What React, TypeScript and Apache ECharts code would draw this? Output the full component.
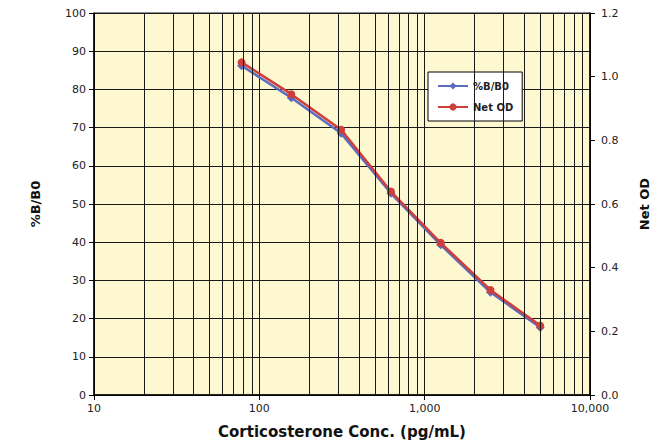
import React, { useEffect, useRef } from "react";
import * as echarts from "echarts";

const concentrations = [78.1, 156, 312.5, 625, 1250, 2500, 5000];
const pctBB0 = [86.2, 77.8, 68.5, 52.8, 39.3, 26.9, 17.7];
const netOD = [1.045, 0.945, 0.833, 0.639, 0.478, 0.33, 0.218];
const minorGridX = [
  20, 30, 40, 50, 60, 70, 80, 90,
  200, 300, 400, 500, 600, 700, 800, 900,
  2000, 3000, 4000, 5000, 6000, 7000, 8000, 9000,
];
const seriesNames = ["%B/B0", "Net OD"];
const axisTitles = { x: "Corticosterone Conc. (pg/mL)", left: "%B/B0", right: "Net OD" };

const FONT = "DejaVu Sans";

export default function App() {
  const ref = useRef<HTMLDivElement>(null);
  useEffect(() => {
    if (!ref.current) return;
    const chart = echarts.init(ref.current, undefined, { renderer: "svg" });
    const gridColor = "#1a1a1a";
    chart.setOption({
      animation: false,
      textStyle: { fontFamily: FONT },
      grid: {
        left: 94,
        right: 77,
        top: 13,
        bottom: 48,
        show: true,
        backgroundColor: "#FDF8CF",
        borderColor: gridColor,
        borderWidth: 1,
      },
      legend: {
        orient: "vertical",
        left: 428,
        top: 72,
        backgroundColor: "#ffffff",
        borderColor: "#000",
        borderWidth: 1,
        borderRadius: 0,
        padding: [9, 9, 9, 9],
        itemGap: 11,
        itemWidth: 30,
        itemHeight: 9,
        textStyle: { fontFamily: FONT, fontSize: 10, fontWeight: "bold", color: "#222" },
        data: [seriesNames[0], seriesNames[1]],
      },
      xAxis: {
        type: "log",
        logBase: 10,
        min: 10,
        max: 10000,
        name: axisTitles.x,
        nameLocation: "middle",
        nameGap: 29,
        nameTextStyle: { fontFamily: FONT, fontSize: 15, fontWeight: "bold", color: "#111" },
        axisLine: { lineStyle: { color: "#000", width: 1.5 } },
        axisTick: { show: true, length: 5, lineStyle: { color: "#000" } },
        axisLabel: {
          fontFamily: FONT,
          fontSize: 11,
          color: "#222",
          margin: 8,
          formatter: (v: number) => Math.round(v).toLocaleString("en-US"),
        },
        splitLine: { show: true, lineStyle: { color: gridColor, width: 1 } },
      },
      yAxis: [
        {
          type: "value",
          min: 0,
          max: 100,
          interval: 10,
          name: axisTitles.left,
          nameLocation: "middle",
          nameGap: 52,
          nameRotate: 90,
          nameTextStyle: { fontFamily: FONT, fontSize: 13, fontWeight: "bold", color: "#111" },
          axisLine: { show: true, lineStyle: { color: "#000", width: 1.5 } },
          axisTick: { show: true, length: 5, lineStyle: { color: "#000" } },
          axisLabel: { fontFamily: FONT, fontSize: 11, color: "#222", margin: 8 },
          splitLine: { show: true, lineStyle: { color: gridColor, width: 1 } },
        },
        {
          type: "value",
          min: 0,
          max: 1.2,
          interval: 0.2,
          position: "right",
          name: axisTitles.right,
          nameLocation: "middle",
          nameGap: 48,
          nameRotate: 90,
          nameTextStyle: { fontFamily: FONT, fontSize: 13, fontWeight: "bold", color: "#111" },
          axisLine: { show: true, lineStyle: { color: "#000", width: 1.5 } },
          axisTick: { show: true, length: 5, lineStyle: { color: "#000" } },
          axisLabel: {
            fontFamily: FONT,
            fontSize: 11,
            color: "#222",
            margin: 11,
            formatter: (v: number) => v.toFixed(1),
          },
          splitLine: { show: false },
        },
      ],
      series: [
        {
          name: "minor-grid",
          type: "line",
          data: [],
          silent: true,
          markLine: {
            silent: true,
            symbol: ["none", "none"],
            label: { show: false },
            lineStyle: { type: "solid", color: gridColor, width: 1 },
            data: minorGridX.map((v) => ({ xAxis: v })),
          },
        },
        {
          name: seriesNames[0],
          type: "line",
          yAxisIndex: 0,
          data: concentrations.map((c, i) => [c, pctBB0[i]]),
          symbol: "diamond",
          symbolSize: 9,
          lineStyle: { color: "#5B6BC0", width: 2.5 },
          itemStyle: { color: "#5B6BC0" },
          z: 3,
        },
        {
          name: seriesNames[1],
          type: "line",
          yAxisIndex: 1,
          data: concentrations.map((c, i) => [c, netOD[i]]),
          symbol: "circle",
          symbolSize: 8,
          lineStyle: { color: "#CF3E3A", width: 2.5 },
          itemStyle: { color: "#CF3E3A" },
          z: 4,
        },
      ],
    });
    return () => chart.dispose();
  }, []);
  return (
    <div
      ref={ref}
      style={{ position: "absolute", left: 0, top: 0, width: 667, height: 444 }}
    />
  );
}
